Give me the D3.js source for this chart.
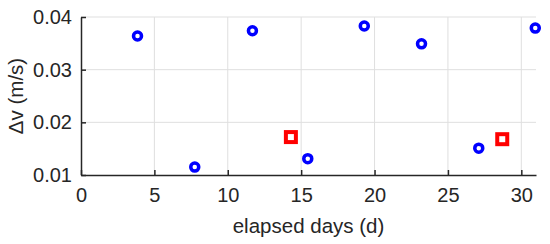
<!DOCTYPE html>
<html>
<head>
<meta charset="utf-8">
<script src="https://cdn.jsdelivr.net/npm/d3@7"></script>
<style>
  body { margin: 0; background: #fff; }
  svg { display: block; }
  text { font-family: "Liberation Sans", Arial, sans-serif; fill: #262626; }
</style>
</head>
<body>
<svg id="chart" width="550" height="244"></svg>
<script>
// blue circles
const circleDays = [3.85, 7.75, 11.68, 15.45, 19.3, 23.2, 27.1, 30.95];
const circleDv = [0.0364, 0.0115, 0.0374, 0.0131, 0.0383, 0.0349, 0.0151, 0.0379];
// red squares
const squareDays = [14.3, 28.7];
const squareDv = [0.0172, 0.0168];

const xTicks = [0, 5, 10, 15, 20, 25, 30];
const yTicks = [0.01, 0.02, 0.03, 0.04];

const width = 550, height = 244;
const margin = {top: 17, right: 14, bottom: 69, left: 81};

const svg = d3.select("#chart");

const x = d3.scaleLinear().domain([0, 31]).range([margin.left, width - margin.right]);
const y = d3.scaleLinear().domain([0.01, 0.04]).range([height - margin.bottom, margin.top]);

// grid
svg.append("g")
  .selectAll("line.vg")
  .data(xTicks.filter(d => d > 0))
  .join("line")
    .attr("x1", d => x(d)).attr("x2", d => x(d))
    .attr("y1", y(0.01)).attr("y2", y(0.04))
    .attr("stroke", "#dfdfdf").attr("stroke-width", 1);

svg.append("g")
  .selectAll("line.hg")
  .data(yTicks.filter(d => d > 0.01))
  .join("line")
    .attr("x1", x(0)).attr("x2", x(31))
    .attr("y1", d => y(d)).attr("y2", d => y(d))
    .attr("stroke", "#dfdfdf").attr("stroke-width", 1);

// axes, ticks pointing inward
const xAxis = d3.axisBottom(x).tickValues(xTicks).tickSizeInner(-5).tickSizeOuter(0).tickPadding(13);
const gx = svg.append("g")
  .attr("transform", `translate(0,${y(0.01)})`)
  .call(xAxis);

const yAxis = d3.axisLeft(y).tickValues(yTicks).tickFormat(d3.format(".2f")).tickSizeInner(-5).tickSizeOuter(0).tickPadding(9);
const gy = svg.append("g")
  .attr("transform", `translate(${x(0)},0)`)
  .call(yAxis);

[gx, gy].forEach(g => {
  g.select(".domain").attr("stroke", "#262626").attr("stroke-width", 1.5);
  g.selectAll(".tick line").attr("stroke", "#262626").attr("stroke-width", 1.5);
  g.selectAll(".tick text")
    .attr("fill", "#262626")
    .style("font-family", "'Liberation Sans', Arial, sans-serif")
    .style("font-size", "20px");
});

// axis labels
svg.append("text")
  .attr("x", (x(0) + x(31)) / 2)
  .attr("y", 233)
  .attr("text-anchor", "middle")
  .style("font-size", "20.5px")
  .text("elapsed days (d)");

svg.append("text")
  .attr("transform", `translate(23,${(y(0.01) + y(0.04)) / 2}) rotate(-90)`)
  .attr("text-anchor", "middle")
  .style("font-size", "20.5px")
  .text("Δv (m/s)");

// markers
svg.append("g")
  .selectAll("circle")
  .data(circleDays)
  .join("circle")
    .attr("cx", d => x(d))
    .attr("cy", (d, i) => y(circleDv[i]))
    .attr("r", 4)
    .attr("fill", "none")
    .attr("stroke", "#0000ff")
    .attr("stroke-width", 3.5);

const sq = 10;
svg.append("g")
  .selectAll("rect")
  .data(squareDays)
  .join("rect")
    .attr("x", d => x(d) - sq / 2)
    .attr("y", (d, i) => y(squareDv[i]) - sq / 2)
    .attr("width", sq)
    .attr("height", sq)
    .attr("fill", "none")
    .attr("stroke", "#ff0000")
    .attr("stroke-width", 4);
</script>
</body>
</html>
